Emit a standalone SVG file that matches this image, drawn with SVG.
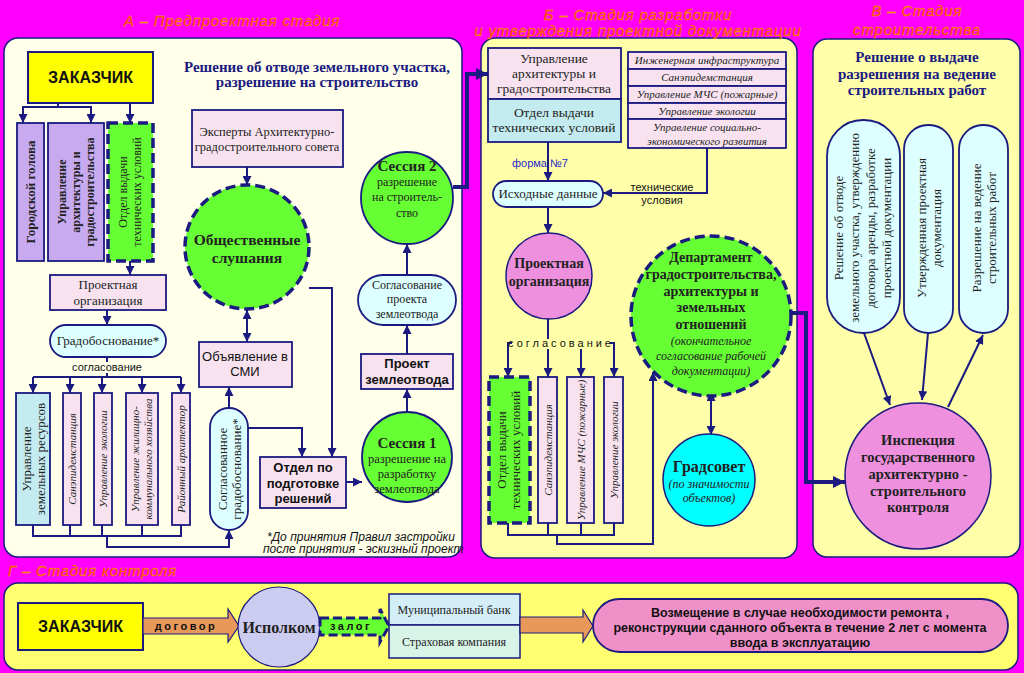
<svg xmlns="http://www.w3.org/2000/svg" width="1024" height="673" viewBox="0 0 1024 673">
<defs>
<style>
.pnl{stroke:#1a1a80;stroke-width:1.5}
.bx{fill:#f8e2f0;stroke:#1a1a80;stroke-width:1.8}
.lav{fill:#c8aaf0;stroke:#1a1a80;stroke-width:1.8}
.cy{fill:#ddffff;stroke:#1a1a80;stroke-width:1.8}
.blu{fill:#c4ecf0;stroke:#1a1a80;stroke-width:1.8}
.gd{fill:#66ff33;stroke:#1a1a80;stroke-width:3.5;stroke-dasharray:10 5}
.gs{fill:#66ff33;stroke:#1a1a80;stroke-width:1.8}
.pk{fill:#ee90dd;stroke:#1a1a80;stroke-width:1.5}
.ln{fill:none;stroke:#1a1a80;stroke-width:2}
.thk{fill:none;stroke:#1a1a80;stroke-width:4}
.ttl{font-family:"Liberation Sans",Arial,sans-serif;font-style:italic;font-size:15px;fill:#ff1a00;letter-spacing:0.8px;stroke:#ffcc00;stroke-width:0.3px}
.s{font-family:"Liberation Serif","Times New Roman",serif;fill:#222}
.a{font-family:"Liberation Sans",Arial,sans-serif;fill:#111}
.b{font-weight:bold}
.i{font-style:italic}
.c{text-anchor:middle}
.nv{fill:#1a1a80}
</style>
<marker id="ar" viewBox="0 0 10 10" refX="10" refY="5" markerWidth="9" markerHeight="9" markerUnits="userSpaceOnUse" orient="auto-start-reverse"><path d="M0,0 L10,5 L0,10 z" fill="#1a1a80"/></marker>
<marker id="ar2" viewBox="0 0 10 10" refX="10" refY="5" markerWidth="14" markerHeight="12" markerUnits="userSpaceOnUse" orient="auto-start-reverse"><path d="M0,0 L10,5 L0,10 z" fill="#1a1a80"/></marker>
</defs>
<rect width="1024" height="673" fill="#ff00ff"/>

<!-- panels -->
<g id="panels">
<rect class="pnl" x="4" y="38" width="458" height="519" rx="14" fill="#ffffea"/>
<rect class="pnl" x="481" y="38" width="316" height="520" rx="14" fill="#ffffaa"/>
<rect class="pnl" x="813" y="39" width="207" height="518" rx="14" fill="#ffffaa"/>
<rect class="pnl" x="4" y="583" width="1014" height="87" rx="14" fill="#ffff70"/>
<text class="ttl c" x="232" y="26">А – Предпроектная стадия</text>
<text class="ttl c" x="638" y="20">Б – Стадия разработки</text>
<text class="ttl c" x="638" y="36">и утверждения проектной документации</text>
<text class="ttl c" x="917" y="16">В – Стадия</text>
<text class="ttl c" x="917" y="35">строительства</text>
<text class="ttl" x="8" y="576">Г – Стадия контроля</text>
</g>

<!-- connectors -->
<g id="connectors">
<path class="ln" d="M58,103 V107"/>
<path class="ln" d="M58,107 H23 V123" marker-end="url(#ar)"/>
<path class="ln" d="M58,107 H91 V123" marker-end="url(#ar)"/>
<path class="ln" d="M130,103 V123" marker-end="url(#ar)"/>
<path class="ln" d="M130,261 V275" marker-end="url(#ar)"/>
<path class="ln" d="M107,310 V325" marker-end="url(#ar)"/>
<path class="ln" d="M107,357 V362"/>
<path class="ln" d="M107,373 V377 M33,377 H181"/>
<path class="ln" d="M33,377 V393" marker-end="url(#ar)"/>
<path class="ln" d="M70,377 V393" marker-end="url(#ar)"/>
<path class="ln" d="M102,377 V393" marker-end="url(#ar)"/>
<path class="ln" d="M142,377 V393" marker-end="url(#ar)"/>
<path class="ln" d="M181,377 V393" marker-end="url(#ar)"/>
<path class="ln" d="M33,525 V536 H181 V525 M70,525 V536 M102,525 V536 M142,525 V536"/>
<path class="ln" d="M107,536 V547 H229 V530" marker-end="url(#ar)"/>
<path class="ln" d="M229,408 V387" marker-end="url(#ar)"/>
<path class="ln" d="M247,342 V310" marker-start="url(#ar)" marker-end="url(#ar)"/>
<path class="ln" d="M247,167 V185" marker-end="url(#ar)"/>
<path class="ln" d="M309,288 H332 V457" marker-end="url(#ar)"/>
<path class="ln" d="M248,428 H302 V457" marker-end="url(#ar)"/>
<path class="ln" d="M346,482 H362" marker-end="url(#ar)"/>
<path class="ln" d="M407,412 V389" marker-end="url(#ar)"/>
<path class="ln" d="M407,354 V325" marker-end="url(#ar)"/>
<path class="ln" d="M407,275 V244" marker-end="url(#ar)"/>
<path class="thk" d="M453,187 H467 V74 H488" marker-end="url(#ar2)"/>

<path class="ln" d="M548,142 V181" marker-end="url(#ar)"/>
<path class="ln" d="M707,148 V193 H603" marker-end="url(#ar)"/>
<path class="ln" d="M548,207 V233" marker-end="url(#ar)"/>
<path class="ln" d="M548,319 V339"/>
<path class="ln" d="M512,343 H508 V377" marker-end="url(#ar)"/>
<path class="ln" d="M610,343 H614 V377" marker-end="url(#ar)"/>
<path class="ln" d="M548,349 V377" marker-end="url(#ar)"/>
<path class="ln" d="M581,349 V377" marker-end="url(#ar)"/>
<path class="ln" d="M508,523 V535 H614 V523 M548,523 V535 M581,523 V535"/>
<path class="ln" d="M557,535 V544 H653 V372" marker-end="url(#ar)"/>
<path class="ln" d="M711,392 V435" marker-start="url(#ar)" marker-end="url(#ar)"/>
<path class="thk" d="M792,313 H806 V482 H845" marker-end="url(#ar2)"/>

<path class="ln" d="M864,333 L890,405" marker-end="url(#ar)"/>
<path class="ln" d="M928,333 L922,400" marker-end="url(#ar)"/>
<path class="ln" d="M948,407 L983,335" marker-end="url(#ar)"/>

<text class="a c" x="107" y="371" font-size="11">согласование</text>
<text class="a c" x="561" y="347" font-size="11" letter-spacing="3">согласование</text>
<text x="512" y="167" font-family="Liberation Sans,Arial,sans-serif" font-size="11" fill="#2828c8">форма   №7</text>
<text class="a c" x="662" y="191" font-size="11">технические</text>
<text class="a c" x="662" y="204" font-size="11">условия</text>
</g>

<!-- Panel A nodes -->
<g id="a-heading"><text class="s b c nv" x="317" y="72" font-size="15">Решение об отводе земельного участка,</text><text class="s b c nv" x="317" y="87" font-size="15">разрешение на строительство</text></g>
<g id="a-zakazchik"><rect x="28" y="52" width="125" height="51" fill="#ffff00" stroke="#1a1a80" stroke-width="2"/><text class="a b c" x="90.5" y="83" font-size="16">ЗАКАЗЧИК</text></g>
<g id="a-golova"><rect class="lav" x="17" y="123" width="27" height="138"/><text class="s b c" font-size="13" transform="translate(31,192) rotate(-90)" y="4">Городской голова</text></g>
<g id="a-uag"><rect class="lav" x="48" y="123" width="56" height="138"/><g transform="translate(76,192) rotate(-90)"><text class="s b c" font-size="12" y="-10">Управление</text><text class="s b c" font-size="12" y="4">архитектуры и</text><text class="s b c" font-size="12" y="18">градостроительства</text></g></g>
<g id="a-otdel"><rect class="gd" x="108" y="123" width="45" height="138"/><g transform="translate(130,192) rotate(-90)"><text class="s c" font-size="12" y="-3">Отдел выдачи</text><text class="s c" font-size="12" y="11">технических условий</text></g></g>
<g id="a-proekt"><rect class="bx" x="50" y="275" width="116" height="35"/><text class="s c" x="108" y="289" font-size="13">Проектная</text><text class="s c" x="108" y="305" font-size="13">организация</text></g>
<g id="a-gradob"><rect class="cy" x="50" y="325" width="116" height="32" rx="16"/><text class="s c" x="108" y="345" font-size="13">Градобоснование*</text></g>
<g id="a-zem"><rect class="blu" x="16" y="393" width="34" height="132"/><g transform="translate(33,459) rotate(-90)"><text class="s c" font-size="13" y="-2">Управление</text><text class="s c" font-size="13" y="12">земельных ресурсов</text></g></g>
<g id="a-san"><rect class="bx" x="63" y="393" width="18" height="132"/><text class="s i c" font-size="11" transform="translate(72,459) rotate(-90)" y="4">Санэпидемстанция</text></g>
<g id="a-eco"><rect class="bx" x="94" y="393" width="18" height="132"/><text class="s i c" font-size="11" transform="translate(103,459) rotate(-90)" y="4">Управление экологии</text></g>
<g id="a-zhkh"><rect class="bx" x="126" y="393" width="32" height="132"/><g transform="translate(142,459) rotate(-90)"><text class="s i c" font-size="11" y="-3">Управление жилищно-</text><text class="s i c" font-size="11" y="10">коммунального хозяйства</text></g></g>
<g id="a-rayon"><rect class="bx" x="172" y="393" width="18" height="132"/><text class="s i c" font-size="11" transform="translate(181,459) rotate(-90)" y="4">Районный архитектор</text></g>
<g id="a-soglgrad"><rect class="cy" x="210" y="408" width="38" height="122" rx="19"/><g transform="translate(229,469) rotate(-90)"><text class="s c" font-size="13" y="-2">Согласованное</text><text class="s c" font-size="13" y="12">градобоснование*</text></g></g>
<g id="a-smi"><rect class="bx" x="199" y="342" width="93" height="45"/><text class="a c" x="245" y="361" font-size="13">Объявление в</text><text class="a c" x="245" y="376" font-size="13">СМИ</text></g>
<g id="a-experty"><rect class="bx" x="192" y="110" width="151" height="57"/><text class="s c" x="267" y="136" font-size="12.5">Эксперты Архитектурно-</text><text class="s c" x="267" y="151" font-size="12.5">градостроительного совета</text></g>
<g id="a-slush"><circle class="gd" cx="247" cy="247" r="62"/><text class="s b c" x="247" y="245" font-size="15.5">Общественные</text><text class="s b c" x="247" y="263" font-size="15.5">слушания</text></g>
<g id="a-otdelpodg"><rect class="bx" x="260" y="457" width="86" height="51"/><text class="a b c" x="303" y="472" font-size="13">Отдел по</text><text class="a b c" x="303" y="488" font-size="13">подготовке</text><text class="a b c" x="303" y="503" font-size="13">решений</text></g>
<g id="a-sessia1"><circle class="gs" cx="407" cy="457" r="45"/><text class="s b c" x="407" y="448" font-size="15">Сессия 1</text><text class="s c" x="407" y="463" font-size="12.5">разрешение на</text><text class="s c" x="407" y="478" font-size="12.5">разработку</text><text class="s c" x="407" y="493" font-size="12.5">землеотвода</text></g>
<g id="a-proektzem"><rect class="bx" x="361" y="354" width="92" height="35"/><text class="a b c" x="407" y="368" font-size="13">Проект</text><text class="a b c" x="407" y="384" font-size="13">землеотвода</text></g>
<g id="a-soglzem"><rect class="cy" x="358" y="275" width="98" height="50" rx="25"/><text class="s c" x="407" y="289" font-size="12">Согласование</text><text class="s c" x="407" y="303" font-size="12">проекта</text><text class="s c" x="407" y="318" font-size="12">землеотвода</text></g>
<g id="a-sessia2"><circle class="gs" cx="407" cy="198" r="46"/><text class="s b c" x="407" y="171" font-size="15">Сессия 2</text><text class="s c" x="407" y="186" font-size="12">разрешение</text><text class="s c" x="407" y="201" font-size="12">на строитель-</text><text class="s c" x="407" y="217" font-size="12">ство</text></g>
<g id="a-note"><text class="a i" x="267" y="541" font-size="12">*До принятия Правил застройки</text><text class="a i" x="263" y="553" font-size="12">после принятия - эскизный проект</text></g>

<!-- Panel B nodes -->
<g id="b-uag"><rect class="bx" x="488" y="48" width="133" height="51"/><text class="s c" x="554" y="63" font-size="13.5">Управление</text><text class="s c" x="554" y="78" font-size="13.5">архитектуры и</text><text class="s c" x="554" y="93" font-size="13.5">градостроительства</text></g>
<g id="b-otdel"><rect class="blu" x="488" y="99" width="133" height="43"/><text class="s c" x="554" y="117" font-size="13.5">Отдел выдачи</text><text class="s c" x="554" y="132" font-size="13.5">технических условий</text></g>
<g id="b-list"><rect class="bx" x="628" y="52" width="158" height="17"/><rect class="bx" x="628" y="69" width="158" height="17"/><rect class="bx" x="628" y="86" width="158" height="17"/><rect class="bx" x="628" y="103" width="158" height="16"/><rect class="bx" x="628" y="119" width="158" height="29"/>
<text class="s i c" x="707" y="64" font-size="11">Инженерная инфраструктура</text><text class="s i c" x="707" y="81" font-size="11">Санэпидемстанция</text><text class="s i c" x="707" y="98" font-size="11">Управление МЧС (пожарные)</text><text class="s i c" x="707" y="115" font-size="11">Управление экологии</text><text class="s i c" x="707" y="131" font-size="11">Управление социально-</text><text class="s i c" x="707" y="145" font-size="11">экономического развития</text></g>
<g id="b-ishod"><rect class="cy" x="493" y="181" width="110" height="26" rx="13"/><text class="s c" x="548" y="198" font-size="13">Исходные данные</text></g>
<g id="b-proekt"><circle class="pk" cx="549" cy="276" r="43"/><text class="s b c" x="549" y="268" font-size="14">Проектная</text><text class="s b c" x="549" y="286" font-size="14">организация</text></g>
<g id="b-otdel2"><rect class="gd" x="489" y="377" width="41" height="146"/><g transform="translate(509,450) rotate(-90)"><text class="s c" font-size="13" y="-3">Отдел выдачи</text><text class="s c" font-size="13" y="11">технических условий</text></g></g>
<g id="b-san"><rect class="bx" x="538" y="377" width="19" height="146"/><text class="s i c" font-size="11" transform="translate(547.5,450) rotate(-90)" y="4">Санэпидемстанция</text></g>
<g id="b-mchs"><rect class="bx" x="567" y="377" width="27" height="146"/><text class="s i c" font-size="11" transform="translate(580.5,450) rotate(-90)" y="4">Управление МЧС (пожарные)</text></g>
<g id="b-eco"><rect class="bx" x="604" y="377" width="19" height="146"/><text class="s i c" font-size="11" transform="translate(613.5,450) rotate(-90)" y="4">Управление экологии</text></g>
<g id="b-dep"><circle class="gd" cx="711" cy="316" r="80"/><text class="s b c" x="711" y="262" font-size="14">Департамент</text><text class="s b c" x="711" y="279" font-size="14">градостроительства,</text><text class="s b c" x="711" y="296" font-size="14">архитектуры и</text><text class="s b c" x="711" y="312" font-size="14">земельных</text><text class="s b c" x="711" y="329" font-size="14">отношений</text><text class="s i c" x="711" y="345" font-size="12">(окончательное</text><text class="s i c" x="711" y="360" font-size="12">согласование рабочей</text><text class="s i c" x="711" y="375" font-size="12">документации)</text></g>
<g id="b-gradsovet"><circle cx="709" cy="480" r="46" fill="#00ffff" stroke="#1a1a80" stroke-width="1.5"/><text class="s b c" x="709" y="472" font-size="16">Градсовет</text><text class="s i c" x="709" y="488" font-size="12">(по значимости</text><text class="s i c" x="709" y="502" font-size="12">объектов)</text></g>

<!-- Panel C nodes -->
<g id="c-heading"><text class="s b c nv" x="917" y="62" font-size="15">Решение о выдаче</text><text class="s b c nv" x="917" y="79" font-size="15">разрешения на ведение</text><text class="s b c nv" x="917" y="95" font-size="15">строительных работ</text></g>
<g id="c-p1"><rect class="cy" x="827" y="120" width="73" height="213" rx="36"/><g transform="translate(863,228) rotate(-90)"><text class="s c" font-size="13" y="-20">Решение об отводе</text><text class="s c" font-size="13" y="-4">земельного участка, утверждению</text><text class="s c" font-size="13" y="12">договора аренды, разработке</text><text class="s c" font-size="13" y="28">проектной документации</text></g></g>
<g id="c-p2"><rect class="cy" x="904" y="125" width="49" height="208" rx="24"/><g transform="translate(928.5,228) rotate(-90)"><text class="s c" font-size="13" y="-3">Утвержденная проектная</text><text class="s c" font-size="13" y="12">документация</text></g></g>
<g id="c-p3"><rect class="cy" x="959" y="125" width="49" height="208" rx="24"/><g transform="translate(983.5,228) rotate(-90)"><text class="s c" font-size="13" y="-3">Разрешение на ведение</text><text class="s c" font-size="13" y="12">строительных работ</text></g></g>
<g id="c-insp"><circle class="pk" cx="918" cy="476" r="73"/><text class="s b c" x="918" y="445" font-size="14.5">Инспекция</text><text class="s b c" x="918" y="462" font-size="14.5">государственного</text><text class="s b c" x="918" y="479" font-size="14.5">архитектурно -</text><text class="s b c" x="918" y="496" font-size="14.5">строительного</text><text class="s b c" x="918" y="512" font-size="14.5">контроля</text></g>

<!-- Panel D nodes -->
<g id="d-zakazchik"><rect x="18" y="603" width="125" height="47" fill="#ffff00" stroke="#1a1a80" stroke-width="2"/><text class="a b c" x="80.5" y="632" font-size="16">ЗАКАЗЧИК</text></g>
<g id="d-dogovor"><path d="M143,618 H228 V609 L239,626 L228,642 V634 H143 z" fill="#e89858" stroke="#1a1a80" stroke-width="1.2"/><text class="a b c" x="186" y="630" font-size="11" letter-spacing="2.5">договор</text></g>
<g id="d-ispolkom"><ellipse cx="279" cy="627" rx="41" ry="40" fill="#ccccf0" stroke="#1a1a80" stroke-width="1.2"/><text class="s b c" x="279" y="633" font-size="16">Исполком</text></g>
<g id="d-zalog"><path d="M320,618 H380 V609 L389,626 L380,642 V635 H320 z" fill="#66ff33" stroke="#1a1a80" stroke-width="3" stroke-dasharray="9 4"/><text class="a b c" x="351" y="630" font-size="11" letter-spacing="2.5">залог</text></g>
<g id="d-banks"><rect x="389" y="594" width="131" height="31" fill="#d4eef8" stroke="#1a1a80" stroke-width="1.5"/><rect x="389" y="625" width="131" height="33" fill="#d8f4e8" stroke="#1a1a80" stroke-width="1.5"/><text class="s c" x="454" y="614" font-size="12">Муниципальный банк</text><text class="s c" x="454" y="646" font-size="12">Страховая компания</text></g>
<g id="d-arrow3"><path d="M520,617 H583 V610 L593,626 L583,642 V633 H520 z" fill="#e89858" stroke="#1a1a80" stroke-width="1.2"/></g>
<g id="d-vozm"><rect x="593" y="599" width="415" height="53" rx="26.5" fill="#f090c8" stroke="#1a1a80" stroke-width="1.8"/><text class="a b c" x="800" y="617" font-size="12.5">Возмещение в случае необходимости ремонта ,</text><text class="a b c" x="800" y="632" font-size="12.5">реконструкции сданного объекта в течение 2 лет с момента</text><text class="a b c" x="800" y="647" font-size="12.5">ввода в эксплуатацию</text></g>
</svg>
